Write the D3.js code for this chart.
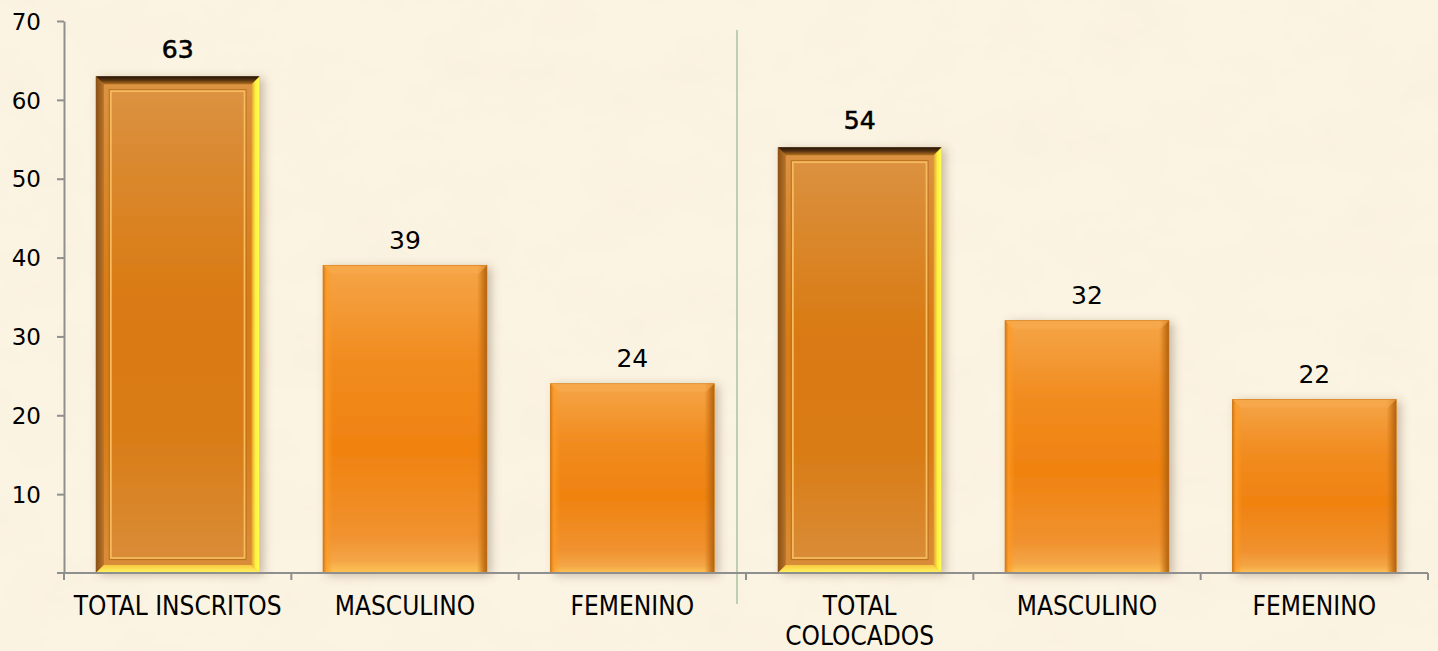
<!DOCTYPE html>
<html>
<head>
<meta charset="utf-8">
<script src="https://cdn.jsdelivr.net/npm/d3@7"></script>
<style>
  html, body { margin: 0; padding: 0; background: #fbf2e0; overflow: hidden; }
  svg { display: block; }
</style>
</head>
<body>
<svg id="chart" width="1438" height="651"></svg>
<script>
// ---- data ----
const categories = ["TOTAL INSCRITOS", "MASCULINO", "FEMENINO", "TOTAL COLOCADOS", "MASCULINO ", "FEMENINO "];
const categoryLines = [["TOTAL INSCRITOS"], ["MASCULINO"], ["FEMENINO"], ["TOTAL", "COLOCADOS"], ["MASCULINO"], ["FEMENINO"]];
const values = [63, 39, 24, 54, 32, 22];
const isTotal = [true, false, false, true, false, false];
const yTicks = [10, 20, 30, 40, 50, 60, 70];

const W = 1438, H = 651;
const margin = { left: 64, right: 10, top: 21, bottom: 78 };
const numFont = "'DejaVu Sans', 'Liberation Sans', Arial, sans-serif";
const svg = d3.select("#chart");
const defs = svg.append("defs");

// parchment texture
const tex = defs.append("filter").attr("id", "parch").attr("x", 0).attr("y", 0).attr("width", "100%").attr("height", "100%");
tex.append("feTurbulence").attr("type", "fractalNoise").attr("baseFrequency", "0.012 0.018").attr("numOctaves", 4).attr("seed", 7).attr("result", "n");
tex.append("feColorMatrix").attr("in", "n").attr("type", "matrix")
  .attr("values", "0 0 0 0 0.93  0 0 0 0 0.86  0 0 0 0 0.70  0 0 0 0.9 -0.33").attr("result", "c");
tex.append("feComposite").attr("in", "c").attr("in2", "SourceGraphic").attr("operator", "over");

svg.append("rect").attr("width", W).attr("height", H).attr("fill", "#fcf4e3");
svg.append("rect").attr("width", W).attr("height", H).attr("fill", "#fcf4e3").attr("filter", "url(#parch)").attr("opacity", 0.6);

// shadow
const sh = defs.append("filter").attr("id", "shadow").attr("x", "-20%").attr("y", "-10%").attr("width", "140%").attr("height", "120%");
sh.append("feDropShadow").attr("dx", 4).attr("dy", 2).attr("stdDeviation", 5).attr("flood-color", "#6b5030").attr("flood-opacity", 0.35);

function lin(id, x1, y1, x2, y2, stops) {
  const g = defs.append("linearGradient").attr("id", id).attr("x1", x1).attr("y1", y1).attr("x2", x2).attr("y2", y2);
  stops.forEach(s => g.append("stop").attr("offset", s[0]).attr("stop-color", s[1]).attr("stop-opacity", s[2] === undefined ? 1 : s[2]));
}
// type B (plain) bars
lin("bFace", 0, 0, 0, 1, [[0, "#f5a447"], [0.06, "#f4a040"], [0.3, "#f18c20"], [0.6, "#f0820f"], [0.88, "#f09230"], [0.96, "#f4a646"], [1, "#fdc455"]]);
lin("bSide", 0, 0, 1, 0, [[0, "#c87418", 0.9], [0.02, "#ff9a22", 0.7], [0.06, "#ff9a22", 0], [0.94, "#c87010", 0], [0.98, "#c06a10", 0.8], [1, "#a85e10", 0.9]]);
// type A (framed) bars
lin("aFace", 0, 0, 0, 1, [[0, "#dc9444"], [0.15, "#da8a32"], [0.45, "#d97a12"], [0.7, "#d97b14"], [1, "#d98e3a"]]);
lin("aTop", 0, 0, 0, 1, [[0, "#1e1204"], [0.5, "#5a3410"], [1, "#b0701e"]]);
lin("aLeft", 0, 0, 1, 0, [[0, "#8a5012"], [1, "#b8732a"]]);
lin("aRight", 0, 0, 1, 0, [[0, "#e0a030"], [0.5, "#fff040"], [1, "#ffff50"]]);
lin("aBottom", 0, 0, 0, 1, [[0, "#f8c840"], [1, "#fff860"]]);

const x = d3.scaleBand().domain(categories).range([margin.left, 1428]).paddingInner(0.28).paddingOuter(0.14);
const y = d3.scaleLinear().domain([0, 70]).range([573, 21]);

// divider
svg.append("line").attr("x1", 737).attr("x2", 737).attr("y1", 30).attr("y2", 604)
  .attr("stroke", "#a9c2a0").attr("stroke-width", 1.5);

const g = svg.append("g");
categories.forEach((c, i) => {
  const x0 = x(c), bw = x.bandwidth(), y0 = y(values[i]), y1 = y(0), h = y1 - y0;
  const bar = g.append("g").attr("filter", "url(#shadow)");
  if (!isTotal[i]) {
    bar.append("rect").attr("x", x0).attr("y", y0).attr("width", bw).attr("height", h).attr("fill", "url(#bFace)")
      .attr("stroke", "#d88420").attr("stroke-width", 1);
    bar.append("rect").attr("x", x0).attr("y", y0).attr("width", bw).attr("height", h).attr("fill", "url(#bSide)");
    bar.append("polygon").attr("points", `${x0},${y0} ${x0 + bw},${y0} ${x0 + bw - 8},${y0 + 8} ${x0 + 8},${y0 + 8}`)
      .attr("fill", "#f8ab50").attr("opacity", 0.6);
  } else {
    const b = 8;
    bar.append("rect").attr("x", x0).attr("y", y0).attr("width", bw).attr("height", h).attr("fill", "url(#aFace)");
    bar.append("polygon").attr("points", `${x0},${y0} ${x0 + b},${y0 + b} ${x0 + b},${y1 - b} ${x0},${y1}`).attr("fill", "url(#aLeft)");
    bar.append("polygon").attr("points", `${x0 + bw},${y0} ${x0 + bw - b},${y0 + b} ${x0 + bw - b},${y1 - b} ${x0 + bw},${y1}`).attr("fill", "url(#aRight)");
    bar.append("polygon").attr("points", `${x0},${y1} ${x0 + b},${y1 - b} ${x0 + bw - b},${y1 - b} ${x0 + bw},${y1}`).attr("fill", "url(#aBottom)");
    bar.append("polygon").attr("points", `${x0},${y0} ${x0 + bw},${y0} ${x0 + bw - b},${y0 + b} ${x0 + b},${y0 + b}`).attr("fill", "url(#aTop)");
    const ins = b + 7;
    bar.append("rect").attr("x", x0 + ins - 1.5).attr("y", y0 + ins - 1.5).attr("width", bw - 2 * ins + 3).attr("height", h - 2 * ins + 3)
      .attr("fill", "none").attr("stroke", "#b0661a").attr("stroke-width", 1.2).attr("opacity", 0.7);
    bar.append("rect").attr("x", x0 + ins).attr("y", y0 + ins).attr("width", bw - 2 * ins).attr("height", h - 2 * ins)
      .attr("fill", "none").attr("stroke", "#f6bb5c").attr("stroke-width", 1.8);
  }
  const lbl = g.append("text").attr("x", x0 + bw / 2).attr("y", y0 - (isTotal[i] ? 18.5 : 16.5))
    .attr("text-anchor", "middle").attr("font-family", numFont).attr("font-size", 25)
    .attr("fill", "#000").text(values[i]);
  if (isTotal[i]) lbl.attr("stroke", "#000").attr("stroke-width", 0.6);
});

// y axis
const yAxis = d3.axisLeft(y).tickValues(yTicks).tickSize(7).tickPadding(16).tickSizeOuter(0);
const ya = svg.append("g").attr("transform", `translate(${margin.left},0)`).call(yAxis);
ya.select(".domain").attr("stroke", "#8f8f8f").attr("stroke-width", 2);
ya.selectAll(".tick line").attr("stroke", "#8f8f8f").attr("stroke-width", 2);
ya.selectAll(".tick text").attr("font-family", numFont).attr("font-size", 23).attr("fill", "#000").attr("dy", "0.36em");

// x axis
const xa = svg.append("g").attr("transform", `translate(0,${y(0)})`);
xa.append("line").attr("x1", margin.left - 7).attr("x2", 1428).attr("y1", 0).attr("y2", 0).attr("stroke", "#8f8f8f").attr("stroke-width", 2);
const bounds = d3.range(categories.length + 1).map(k => margin.left + k * (1428 - margin.left) / categories.length);
xa.selectAll("line.tk").data(bounds).join("line").attr("class", "tk")
  .attr("x1", d => d).attr("x2", d => d).attr("y1", 0).attr("y2", 7).attr("stroke", "#8f8f8f").attr("stroke-width", 2);
categories.forEach((c, i) => {
  const t = xa.append("text").attr("x", x(c) + x.bandwidth() / 2).attr("y", 42)
    .attr("text-anchor", "middle").attr("font-family", "'Liberation Sans Narrow', 'Arial Narrow', 'DejaVu Sans Condensed', sans-serif")
    .attr("font-size", 26).attr("fill", "#000");
  categoryLines[i].forEach((ln, k) => t.append("tspan").attr("x", x(c) + x.bandwidth() / 2).attr("dy", k === 0 ? 0 : 30).text(ln));
});
</script>
</body>
</html>
